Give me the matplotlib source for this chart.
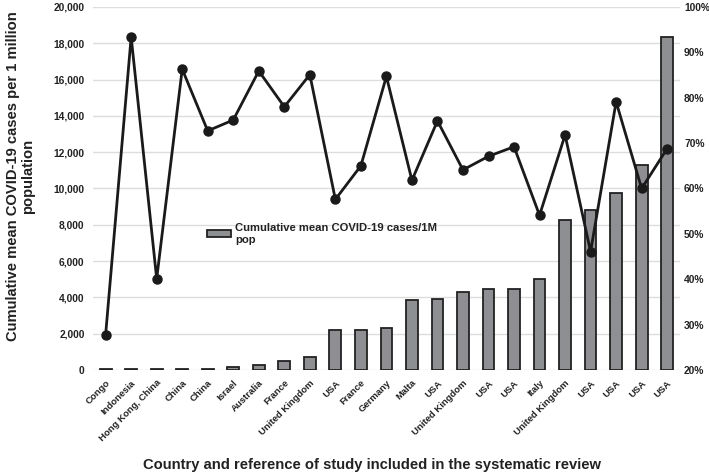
import matplotlib
matplotlib.use("Agg")
import matplotlib.pyplot as plt
from matplotlib import font_manager
from matplotlib.ticker import FuncFormatter

countries = ["Congo", "Indonesia", "Hong Kong, China", "China", "China", "Israel",
             "Australia", "France", "United Kingdom", "USA", "France", "Germany",
             "Malta", "USA", "United Kingdom", "USA", "USA", "Italy",
             "United Kingdom", "USA", "USA", "USA", "USA"]
cases_per_1m = [50, 50, 80, 80, 80, 150, 270, 500, 700, 2180, 2200, 2340,
                3880, 3920, 4320, 4460, 4460, 5000, 8250, 8830, 9770, 11320, 18360]
pct = [27.8, 93.4, 40.1, 86.3, 72.7, 75.1, 85.9, 78.0, 85.1, 57.6, 65.0, 84.7,
       61.8, 74.9, 64.1, 67.1, 69.2, 54.1, 71.8, 46.1, 79.1, 60.0, 68.8]

names = {f.name for f in font_manager.fontManager.ttflist}
if 'Liberation Sans Narrow' in names:
    fam = 'Liberation Sans Narrow'
    k = 1.0
else:
    fam = 'Liberation Sans'
    k = 0.82
plt.rcParams['font.family'] = [fam, 'DejaVu Sans']

TXT = '#222222'
fig = plt.figure(figsize=(7.09, 4.76), dpi=100)
ax = fig.add_axes([0.131, 0.2227, 0.828, 0.7626])
x = list(range(len(countries)))
ax.bar(x, cases_per_1m, width=0.46, color='#8e8f93', edgecolor='#222222',
       linewidth=1.3, label='Cumulative mean COVID-19 cases/1M\npop', zorder=2)
ax.set_ylim(0, 20000)
ax.set_xlim(-0.5, len(countries) - 0.5)
ax.set_yticks(range(0, 20001, 2000))
ax.yaxis.set_major_formatter(FuncFormatter(lambda v, p: f"{int(v):,}"))
ax.grid(axis='y', color='#dddddd', linewidth=1.0, zorder=0)
ax.set_axisbelow(True)
for s in ax.spines.values():
    s.set_visible(False)
ax.tick_params(axis='y', length=0, labelsize=9 * k, pad=6)
ax.tick_params(axis='x', length=0, pad=6)
ax.set_xticks(x)
ax.set_xticklabels(countries, rotation=45, ha='right', rotation_mode='anchor',
                   fontsize=8.3 * k, fontweight='bold', color=TXT)
for lbl in ax.get_yticklabels():
    lbl.set_fontweight('bold')
    lbl.set_color(TXT)

fig.text(0.029, (476 - 176) / 476, 'Cumulative mean COVID-19 cases per 1 million\npopulation',
         rotation=90, ha='center', va='center', multialignment='center',
         fontsize=13 * k, fontweight='bold', color=TXT, linespacing=1.1)
fig.text(0.525, (476 - 465) / 476,
         'Country and reference of study included in the systematic review',
         ha='center', va='center', fontsize=13 * k, fontweight='bold', color=TXT)

ax2 = ax.twinx()
ax2.plot(x, pct, color='#1a1a1a', linewidth=2.0, marker='o', markersize=6.5, zorder=3)
ax2.set_ylim(20, 100)
ax2.set_yticks(range(20, 101, 10))
ax2.yaxis.set_major_formatter(FuncFormatter(lambda v, p: f"{int(v)}%"))
for s in ax2.spines.values():
    s.set_visible(False)
ax2.tick_params(axis='y', length=0, labelsize=9 * k, pad=3)
for lbl in ax2.get_yticklabels():
    lbl.set_fontweight('bold')
    lbl.set_color(TXT)

leg = ax.legend(loc='upper left', bbox_to_anchor=(0.195, 0.405), frameon=False,
                fontsize=9.9 * k, handlelength=2.1, handleheight=0.55, handletextpad=0.35,
                borderpad=0, borderaxespad=0)
for t in leg.get_texts():
    t.set_fontweight('bold')
    t.set_color(TXT)

fig.savefig('out.png', dpi=100)
